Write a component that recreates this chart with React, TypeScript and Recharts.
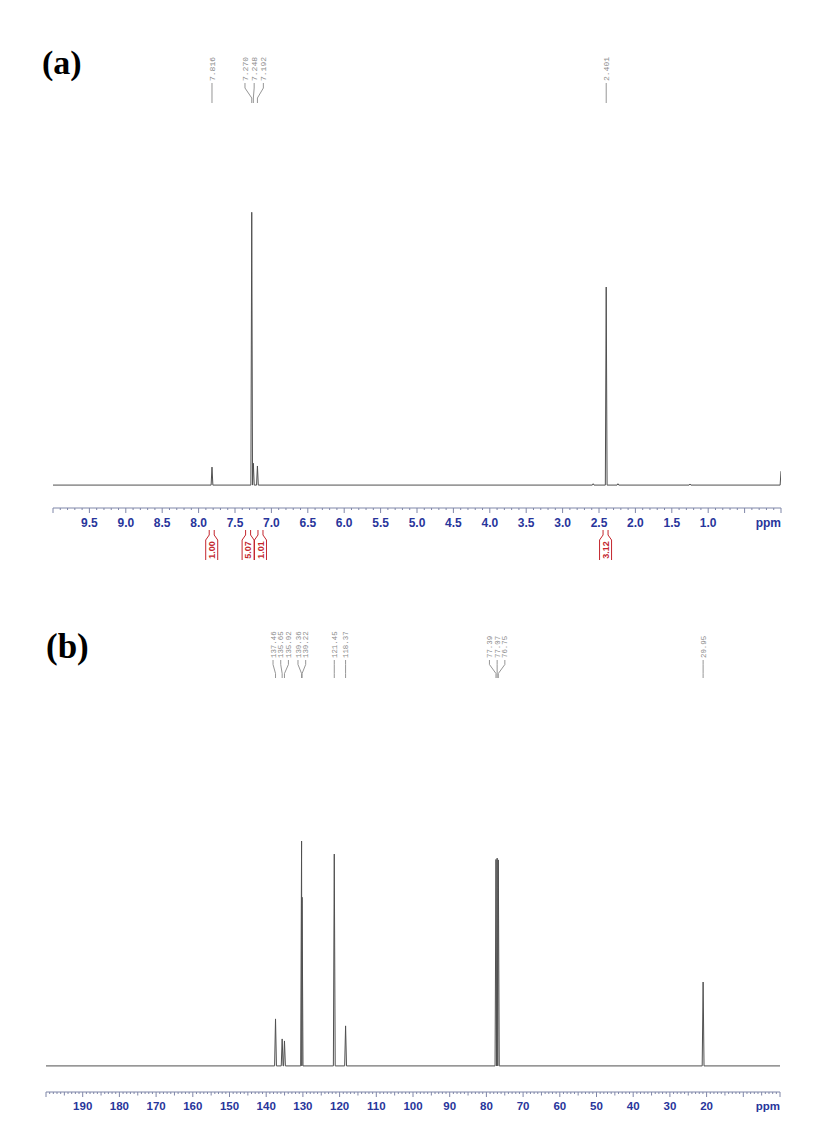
import { LineChart, Line, XAxis, YAxis } from "recharts"

// (a) 1H spectrum: peak shifts (ppm) and heights (tallest = 100)
const peaksAppm = [7.816, 7.27, 7.248, 7.192, 2.58, 2.401, 2.24, 1.25, 0.0]
const peaksAint = [6.6, 100, 8.0, 7.0, 0.5, 72.6, 0.5, 0.4, 5.1]
const labelsAppm = [7.816, 7.27, 7.248, 7.192, 2.401]
const integralsAppm = [7.82, 7.32, 7.15, 2.41]
const integralsAval = ["1.00", "5.07", "1.01", "3.12"]
const ticksAlabels = [9.5, 9.0, 8.5, 8.0, 7.5, 7.0, 6.5, 6.0, 5.5, 5.0, 4.5, 4.0, 3.5, 3.0, 2.5, 2.0, 1.5, 1.0]

// (b) 13C spectrum
const peaksBppm = [137.46, 135.65, 135.02, 130.36, 130.22, 121.45, 118.37, 77.39, 77.07, 76.75, 20.95]
const peaksBint = [20.9, 12.0, 11.1, 100, 75, 94.2, 17.8, 91.8, 92.4, 91.6, 37.3]
const labelsBppm = [137.46, 135.65, 135.02, 130.36, 130.22, 121.45, 118.37, 77.39, 77.07, 76.75, 20.95]
const ticksBlabels = [190, 180, 170, 160, 150, 140, 130, 120, 110, 100, 90, 80, 70, 60, 50, 40, 30, 20]

const BLUE = "#28359b"
const AXIS = "#7f86a8"
const TRACE = "#505050"
const LABEL = "#8a8a8a"
const RED = "#c4262e"

type Pt = { x: number; y: number }

// baseline -> apex -> baseline for every peak, close peaks share one foot
function buildTrace(ppm: number[], ints: number[], hi: number, lo: number, w: number): Pt[] {
  const peaks = ppm.map((p, i) => ({ p, h: ints[i] })).sort((a, b) => b.p - a.p)
  const pts: Pt[] = [{ x: hi, y: 0 }]
  peaks.forEach((pk, i) => {
    const prev = peaks[i - 1]
    const next = peaks[i + 1]
    if (prev && prev.p - pk.p < 2 * w) pts.push({ x: (prev.p + pk.p) / 2, y: 0 })
    else if (pk.p + w < hi) pts.push({ x: pk.p + w, y: 0 })
    pts.push({ x: pk.p, y: pk.h })
    if (!(next && pk.p - next.p < 2 * w) && pk.p - w > lo) pts.push({ x: pk.p - w, y: 0 })
  })
  if (pts[pts.length - 1].x > lo) pts.push({ x: lo, y: 0 })
  return pts
}

// spread peak labels so they don't overlap (Bruker style), returns px offset per label
function layoutLabels(ppm: number[], hi: number, lo: number, plotW: number, gap: number) {
  const px = ppm.map((p) => ((hi - p) / (hi - lo)) * plotW)
  let groups = px.map((x, i) => ({ idx: [i], center: x }))
  let merged = true
  while (merged) {
    merged = false
    for (let g = 0; g < groups.length - 1; g++) {
      const a = groups[g]
      const b = groups[g + 1]
      const aEnd = a.center + ((a.idx.length - 1) / 2) * gap
      const bStart = b.center - ((b.idx.length - 1) / 2) * gap
      if (bStart - aEnd < gap) {
        const idx = [...a.idx, ...b.idx]
        const center = idx.reduce((s, i) => s + px[i], 0) / idx.length
        groups = [...groups.slice(0, g), { idx, center }, ...groups.slice(g + 2)]
        merged = true
        break
      }
    }
  }
  const offsets = new Map<number, number>()
  groups.forEach((g) => {
    g.idx.forEach((i, k) => {
      const lx = g.center + (k - (g.idx.length - 1) / 2) * gap
      offsets.set(ppm[i], lx - px[i])
    })
  })
  return offsets
}

const near = (a: number, b: number) => Math.abs(a - b) < 1e-6

interface PanelProps {
  width: number
  height: number
  margin: { top: number; right: number; bottom: number; left: number }
  scaleHeight: number
  labelBand: number
  hi: number
  lo: number
  yDomain: [number, number]
  peakPpm: number[]
  peakInt: number[]
  footW: number
  labelPpm: number[]
  labelDigits: number
  labelFont: number
  labelGap: number
  labelTextY: number
  lineTopY: number
  lineBottomY: number
  minorStep: number
  majorStep: number
  midStep?: number
  tickLabels: number[]
  tickDigits: number
  tickFont: number
  tickTextDy: number
  integralPpm?: number[]
  integralVal?: string[]
}

function Panel(p: PanelProps) {
  const plotW = p.width - p.margin.left - p.margin.right
  const axisY = p.height - p.margin.bottom - p.scaleHeight
  const trace = buildTrace(p.peakPpm, p.peakInt, p.hi, p.lo, p.footW)
  const offsets = layoutLabels(p.labelPpm, p.hi, p.lo, plotW, p.labelGap)
  const n = Math.round((p.hi - p.lo) / p.minorStep)
  const ticks = Array.from({ length: n + 1 }, (_, i) => +(p.lo + i * p.minorStep).toFixed(3))

  const scaleTick = (t: any) => {
    const v = t.payload.value as number
    const major = near(v / p.majorStep, Math.round(v / p.majorStep))
    const mid = p.midStep ? near(v / p.midStep, Math.round(v / p.midStep)) : false
    const len = major ? 5 : mid ? 3.5 : 2
    const hasLabel = p.tickLabels.some((l) => near(l, v))
    return (
      <g>
        <line x1={t.x} x2={t.x} y1={axisY} y2={axisY + len} stroke={AXIS} strokeWidth={1} />
        {hasLabel && (
          <text x={t.x} y={axisY + p.tickTextDy} textAnchor="middle" fill={BLUE} fontSize={p.tickFont}
            fontWeight="bold" fontFamily="Arial, 'Liberation Sans', sans-serif">
            {v.toFixed(p.tickDigits)}
          </text>
        )}
        {near(v, p.lo) && (
          <text x={t.x} y={axisY + p.tickTextDy} textAnchor="end" fill={BLUE} fontSize={p.tickFont}
            fontWeight="bold" fontFamily="Arial, 'Liberation Sans', sans-serif">
            ppm
          </text>
        )}
      </g>
    )
  }

  const peakTick = (t: any) => {
    const v = t.payload.value as number
    const lx = t.x + (offsets.get(v) ?? 0)
    const L = p.lineBottomY - p.lineTopY
    const d = `M${lx},${p.lineTopY} L${lx},${p.lineTopY + 0.25 * L} L${t.x},${p.lineTopY + 0.75 * L} L${t.x},${p.lineBottomY}`
    return (
      <g>
        <path d={d} fill="none" stroke={LABEL} strokeWidth={0.9} />
        <text transform={`translate(${lx},${p.labelTextY}) rotate(-90)`} dy="0.35em" fill={LABEL}
          fontSize={p.labelFont} fontFamily="'Liberation Mono', 'DejaVu Sans Mono', monospace">
          {v.toFixed(p.labelDigits)}
        </text>
      </g>
    )
  }

  const integralTick = (t: any) => {
    const v = t.payload.value as number
    const i = (p.integralPpm ?? []).findIndex((q) => near(q, v))
    const x = t.x
    const top = axisY + 22
    const d = `M${x - 6},${axisY + 52} L${x - 6},${top + 10} L${x - 2.5},${top + 5} L${x - 2.5},${top} M${x + 6},${axisY + 52} L${x + 6},${top + 10} L${x + 2.5},${top + 5} L${x + 2.5},${top}`
    return (
      <g>
        <path d={d} fill="none" stroke={RED} strokeWidth={1} />
        <text transform={`translate(${x},${axisY + 42}) rotate(-90)`} dy="0.35em" textAnchor="middle"
          fill={RED} fontSize={9} fontWeight="bold" fontFamily="Arial, 'Liberation Sans', sans-serif">
          {p.integralVal?.[i]}
        </text>
      </g>
    )
  }

  const hasIntegrals = !!p.integralPpm
  const peakBand = hasIntegrals ? p.labelBand - 1 : p.labelBand

  return (
    <LineChart width={p.width} height={p.height} data={trace} margin={p.margin}>
      <XAxis xAxisId="scale" dataKey="x" type="number" domain={[p.lo, p.hi]} reversed allowDataOverflow
        ticks={ticks} interval={0} tick={scaleTick} tickLine={false} tickSize={0} tickMargin={0}
        axisLine={{ stroke: AXIS }} height={p.scaleHeight} />
      <XAxis xAxisId="peaks" orientation="top" dataKey="x" type="number" domain={[p.lo, p.hi]} reversed
        allowDataOverflow ticks={p.labelPpm} interval={0} tick={peakTick} tickLine={false} tickSize={0}
        tickMargin={0} axisLine={false} height={peakBand} />
      {hasIntegrals && (
        <XAxis xAxisId="integrals" orientation="top" dataKey="x" type="number" domain={[p.lo, p.hi]} reversed
          allowDataOverflow ticks={p.integralPpm} interval={0} tick={integralTick} tickLine={false}
          tickSize={0} tickMargin={0} axisLine={false} height={1} />
      )}
      <YAxis hide domain={p.yDomain} allowDataOverflow width={0} />
      <Line xAxisId="scale" dataKey="y" type="linear" stroke={TRACE} strokeWidth={1} dot={false}
        activeDot={false} isAnimationActive={false} />
    </LineChart>
  )
}

const panelLetter = {
  position: "absolute" as const,
  fontFamily: "'Times New Roman', 'Liberation Serif', serif",
  fontWeight: "bold" as const,
  lineHeight: 1,
  color: "#000",
}

export default function App() {
  return (
    <div style={{ position: "absolute", left: 0, top: 0, width: 814, height: 1138, background: "#fff", overflow: "hidden" }}>
      <div style={{ ...panelLetter, left: 42, top: 46, fontSize: 34 }}>(a)</div>
      <div style={{ ...panelLetter, left: 46, top: 629, fontSize: 35 }}>(b)</div>

      <div style={{ position: "absolute", left: 0, top: 0 }}>
        <Panel
          width={814} height={590}
          margin={{ top: 55, right: 33, bottom: 12, left: 53 }}
          scaleHeight={70} labelBand={130}
          hi={10} lo={0} yDomain={[-8.4, 110]}
          peakPpm={peaksAppm} peakInt={peaksAint} footW={0.012}
          labelPpm={labelsAppm} labelDigits={3} labelFont={8} labelGap={9.2}
          labelTextY={81} lineTopY={83} lineBottomY={103}
          minorStep={0.1} majorStep={0.5}
          tickLabels={ticksAlabels} tickDigits={1} tickFont={12} tickTextDy={19}
          integralPpm={integralsAppm} integralVal={integralsAval}
        />
      </div>

      <div style={{ position: "absolute", left: 0, top: 590 }}>
        <Panel
          width={814} height={548}
          margin={{ top: 63, right: 34, bottom: 6, left: 46 }}
          scaleHeight={40} labelBand={130}
          hi={200} lo={0} yDomain={[-11.6, 125.8]}
          peakPpm={peaksBppm} peakInt={peaksBint} footW={0.25}
          labelPpm={labelsBppm} labelDigits={2} labelFont={7.4} labelGap={7.7}
          labelTextY={68} lineTopY={70} lineBottomY={88}
          minorStep={1} majorStep={10} midStep={5}
          tickLabels={ticksBlabels} tickDigits={0} tickFont={11.5} tickTextDy={18}
        />
      </div>
    </div>
  )
}
